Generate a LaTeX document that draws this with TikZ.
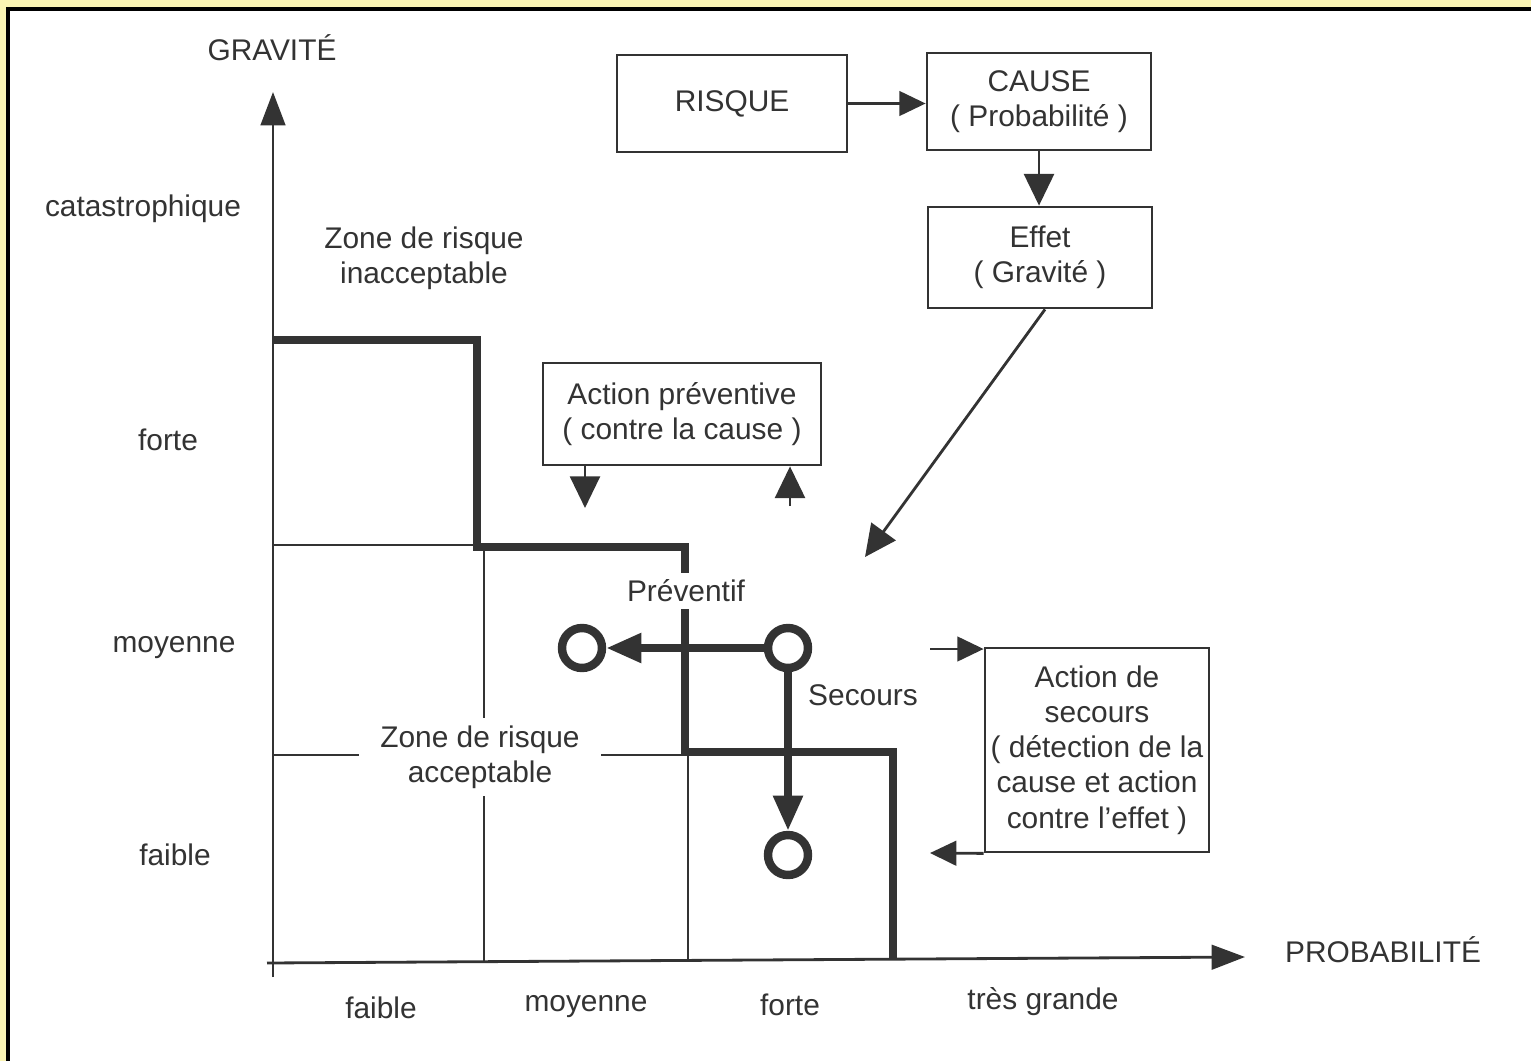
\documentclass[tikz,border=0pt]{standalone}
\usepackage{fontspec}
\setmainfont{Liberation Sans}
\usetikzlibrary{arrows.meta,positioning}
\definecolor{encre}{HTML}{333333}
\definecolor{cadre}{HTML}{FAF4B4}

\tikzset{
  etiq/.style={text=encre, align=center, font=\fontsize{17}{20}\selectfont},
  cache/.style={etiq, fill=white, inner xsep=12pt, inner ysep=4pt},
  boite/.style={etiq, draw=encre, line width=1.6pt, inner sep=0pt},
  fin/.style={draw=encre, line width=1.6pt},
  gras/.style={draw=encre, line width=4pt},
  fleche/.style={draw=encre, line width=1.6pt, -{Triangle[length=15pt,width=14pt]}},
  grande/.style={fleche, -{Triangle[length=18pt,width=17pt]}},
  axe/.style={draw=encre, line width=1.6pt, -{Triangle[length=19pt,width=14pt]}},
  grosse/.style={draw=encre, line width=4.6pt, -{Triangle[length=20pt,width=16pt]}},
  rond/.style={circle, draw=encre, line width=4.8pt, fill=white, minimum size=0.8cm, inner sep=0pt}
}

\begin{document}
\begin{tikzpicture}[x=0.02cm, y=-0.02cm]
\useasboundingbox (0,0) rectangle (1531,1061);
% cadre
\fill[white] (0,0) rectangle (1531,1061);
\fill[cadre] (0,0) rectangle (1531,8);
\fill[cadre] (0,0) rectangle (7,1061);
\draw[black, line width=1.8pt] (8,1061) -- (8,9) -- (1531,9);

% axes
\draw[axe] (273,977) -- (273,92);
\draw[axe] (267,963) -- (1245,957);
\node[etiq] (gravite) at (272,48) {GRAVITÉ};
\node[etiq] (proba) at (1383,950) {PROBABILITÉ};

\node[etiq] (g4) at (143,209) {catastrophique};
\node[etiq] (g3) at (168,440) {forte};
\node[etiq] (g2) at (174,648) {moyenne};
\node[etiq] (g1) at (175,855) {faible};

\node[etiq] (p1) at (381,1008) {faible};
\node[etiq] (p2) at (586,1007) {moyenne};
\node[etiq] (p3) at (790,1005) {forte};
\node[etiq] (p4) at (1043,1002) {très grande};

% grille
\draw[fin] (273,545) -- (477,545);
\draw[fin] (484,547) -- (484,962);
\draw[fin] (273,755) -- (685,755);
\draw[fin] (688,754) -- (688,961);

% limite des zones
\draw[gras] (273,340) -- (477,340) -- (477,547) -- (685,547) -- (685,752) -- (893,752) -- (893,960);

\node[etiq] (inacc) at (424,258) {Zone de risque\\inacceptable};
\node[cache] (acc) at (480,757) {Zone de risque\\acceptable};
\node[cache, inner xsep=4pt] (prev) at (686,591) {Préventif};
\node[etiq] (secl) at (863,695) {Secours};

% boites
\node[boite, minimum width=4.6cm, minimum height=1.94cm] (risque) at (732,103.5) {RISQUE};
\node[boite, minimum width=4.48cm, minimum height=1.94cm] (cause) at (1039,101.5) {CAUSE\\( Probabilité )};
\node[boite, minimum width=4.48cm, minimum height=2.02cm] (effet) at (1040,257.5) {Effet\\( Gravité )};
\node[boite, minimum width=5.56cm, minimum height=2.04cm] (preventive) at (682,414) {Action préventive\\( contre la cause )};
\node[boite, minimum width=4.48cm, minimum height=4.08cm] (secours) at (1097,750) {Action de\\secours\\( détection de la\\cause et action\\contre l'effet )};

\draw[fleche] (risque.east) -- (risque.east -| cause.west);
\draw[grande] (cause.south) -- (cause.south |- effet.north);
\coordinate (cible) at (865,557);
\draw[grande] ([xshift=0.1cm]effet.south) -- (cible);

\coordinate (pv1) at (585,508);
\coordinate (pv2) at (790,506);
\draw[grande] (preventive.south -| pv1) -- (pv1);
\draw[grande] (pv2) -- (pv2 |- preventive.south);

\coordinate (sin) at (930,649);
\coordinate (sout) at (930,853);
\draw[fleche] (sin) -- (sin -| secours.west);
\draw[fleche] (secours.south west) -- (sout);

% ronds
\node[rond] (c1) at (788,648) {};
\node[rond] (c2) at (582,648) {};
\node[rond] (c3) at (788,855) {};
\draw[grosse] (c1) -- (c2);
\draw[grosse] (c1) -- (c3);
\end{tikzpicture}
\end{document}
